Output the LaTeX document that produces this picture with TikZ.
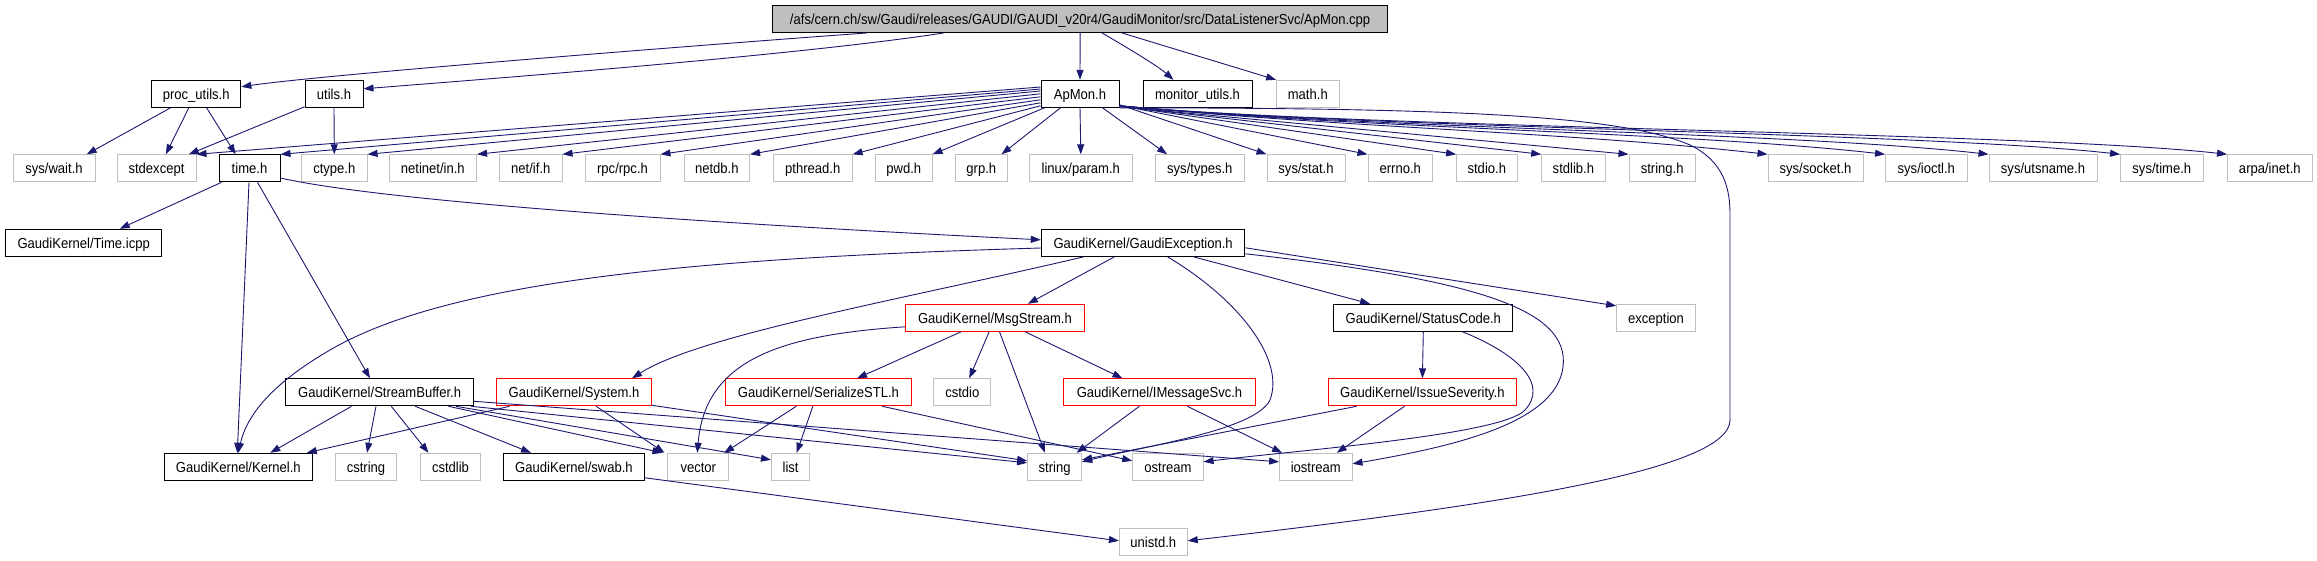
\documentclass[tikz,border=0pt]{standalone}
\usepackage{fontspec}
\setmainfont[FakeStretch=0.9]{Liberation Sans}
\usetikzlibrary{arrows.meta}
\definecolor{edgecol}{HTML}{191970}
\definecolor{boxgray}{HTML}{BFBFBF}
\definecolor{boxred}{HTML}{FF0000}
\begin{document}
\begin{tikzpicture}[x=1pt,y=-1pt,
  nb/.style={draw, line width=1pt, inner sep=0pt, minimum height=27pt,
    text height=11.5pt, text depth=1.1pt, font=\fontsize{14.5}{16}\selectfont},
  blk/.style={nb, draw=black},
  gry/.style={nb, draw=boxgray},
  rbox/.style={nb, draw=boxred},
  topbox/.style={nb, draw=black, fill=boxgray},
  inc/.style={draw=edgecol, line width=0.9pt, -{Triangle[length=10pt,width=7pt]}}]
\useasboundingbox (0,0) rectangle (2317,560);
% row 0
\node[topbox, minimum width=615.4pt] (src) at (1080.1,19) {/afs/cern.ch/sw/Gaudi/releases/GAUDI/GAUDI\_v20r4/GaudiMonitor/src/DataListenerSvc/ApMon.cpp};
% row 1
\node[blk, minimum width=89.3pt] (proc) at (196.2,93.8) {proc\_utils.h};
\node[blk, minimum width=58pt] (utils) at (334,93.8) {utils.h};
\node[blk, minimum width=78pt] (apmon) at (1080,93.8) {ApMon.h};
\node[blk, minimum width=109pt] (monutils) at (1197.5,93.8) {monitor\_utils.h};
\node[gry, minimum width=62.5pt] (math) at (1307.8,93.8) {math.h};
% row 2
\node[gry, minimum width=82pt] (syswait) at (54,168.3) {sys/wait.h};
\node[gry, minimum width=79pt] (stdexcept) at (156.5,168.3) {stdexcept};
\node[blk, minimum width=61pt] (timeh) at (249.5,168.3) {time.h};
\node[gry, minimum width=65.5pt] (ctype) at (334.3,168.3) {ctype.h};
\node[gry, minimum width=87.5pt] (netinet) at (432.8,168.3) {netinet/in.h};
\node[gry, minimum width=62.5pt] (netif) at (530.8,168.3) {net/if.h};
\node[gry, minimum width=75pt] (rpc) at (622.5,168.3) {rpc/rpc.h};
\node[gry, minimum width=65.5pt] (netdb) at (716.8,168.3) {netdb.h};
\node[gry, minimum width=78.5pt] (pthread) at (812.8,168.3) {pthread.h};
\node[gry, minimum width=56.5pt] (pwd) at (903.8,168.3) {pwd.h};
\node[gry, minimum width=51.4pt] (grp) at (981.3,168.3) {grp.h};
\node[gry, minimum width=102.4pt] (linuxparam) at (1080.8,168.3) {linux/param.h};
\node[gry, minimum width=88.4pt] (systypes) at (1199.8,168.3) {sys/types.h};
\node[gry, minimum width=78pt] (sysstat) at (1306,168.3) {sys/stat.h};
\node[gry, minimum width=64.6pt] (errno) at (1400.3,168.3) {errno.h};
\node[gry, minimum width=60.4pt] (stdio) at (1486.8,168.3) {stdio.h};
\node[gry, minimum width=63.3pt] (stdlib) at (1573.4,168.3) {stdlib.h};
\node[gry, minimum width=66.4pt] (stringh) at (1662.2,168.3) {string.h};
\node[gry, minimum width=95pt] (syssocket) at (1815.5,168.3) {sys/socket.h};
\node[gry, minimum width=81.4pt] (sysioctl) at (1926.3,168.3) {sys/ioctl.h};
\node[gry, minimum width=108pt] (sysutsname) at (2043,168.3) {sys/utsname.h};
\node[gry, minimum width=82.4pt] (systime) at (2161.8,168.3) {sys/time.h};
\node[gry, minimum width=84.5pt] (arpainet) at (2269.8,168.3) {arpa/inet.h};
% row 3
\node[blk, minimum width=156.1pt] (timeicpp) at (83.7,242.8) {GaudiKernel/Time.icpp};
\node[blk, minimum width=203.6pt] (gexc) at (1143.1,242.8) {GaudiKernel/GaudiException.h};
% row 4
\node[rbox, minimum width=178.6pt] (msgstream) at (994.9,317.8) {GaudiKernel/MsgStream.h};
\node[blk, minimum width=179.1pt] (statuscode) at (1423.3,317.8) {GaudiKernel/StatusCode.h};
\node[gry, minimum width=78.7pt] (exception) at (1656,317.8) {exception};
% row 5
\node[blk, minimum width=187.8pt] (streambuffer) at (379.6,392.3) {GaudiKernel/StreamBuffer.h};
\node[rbox, minimum width=155.1pt] (system) at (574,392.3) {GaudiKernel/System.h};
\node[rbox, minimum width=186.7pt] (serializestl) at (818.4,392.3) {GaudiKernel/SerializeSTL.h};
\node[gry, minimum width=57.1pt] (cstdio) at (962.3,392.3) {cstdio};
\node[rbox, minimum width=191.3pt] (imsgsvc) at (1159.5,392.3) {GaudiKernel/IMessageSvc.h};
\node[rbox, minimum width=188.8pt] (issuesev) at (1422.4,392.3) {GaudiKernel/IssueSeverity.h};
% row 6
\node[blk, minimum width=147.9pt] (kernel) at (238.3,466.8) {GaudiKernel/Kernel.h};
\node[gry, minimum width=60.7pt] (cstring) at (366,466.8) {cstring};
\node[gry, minimum width=60.2pt] (cstdlib) at (450.5,466.8) {cstdlib};
\node[blk, minimum width=140.8pt] (swab) at (574,466.8) {GaudiKernel/swab.h};
\node[gry, minimum width=60.7pt] (vector) at (698.3,466.8) {vector};
\node[gry, minimum width=38.3pt] (list) at (790.6,466.8) {list};
\node[gry, minimum width=54pt] (string) at (1054.6,466.8) {string};
\node[gry, minimum width=70.3pt] (ostream) at (1167.9,466.8) {ostream};
\node[gry, minimum width=72.4pt] (iostream) at (1315.8,466.8) {iostream};
% row 7
\node[gry, minimum width=67.8pt] (unistd) at (1153.3,541.8) {unistd.h};

% ---- edges from ApMon.cpp
\draw[inc] ([xshift=94.6pt]src.south west) .. controls (700,45) and (320,75) .. ([yshift=7pt]proc.east);
\draw[inc] ([xshift=171.6pt]src.south west) .. controls (800,55) and (500,78) .. ([yshift=5pt]utils.east);
\draw[inc] (src.south) -- (apmon.north);
\draw[inc] ([xshift=22pt]src.south) .. controls (1140,55) and (1160,68) .. ([xshift=-24pt]monutils.north);
\draw[inc] ([xshift=42pt]src.south) -- (math.north west);
% ---- proc_utils, utils
\draw[inc] ([xshift=19.5pt]proc.south west) -- ([xshift=32.7pt]syswait.north);
\draw[inc] ([xshift=-7.4pt]proc.south) -- ([xshift=9.3pt]stdexcept.north);
\draw[inc] ([xshift=10.4pt]proc.south) -- ([xshift=-13.8pt]timeh.north);
\draw[inc] ([yshift=1pt]utils.south west) -- ([xshift=32.3pt]stdexcept.north);
\draw[inc] (utils.south) -- (ctype.north);
% ---- ApMon.h
\draw[inc] ([yshift=6.8pt]apmon.west) -- (stdexcept.north east);
\draw[inc] ([yshift=4.8pt]apmon.west) -- (timeh.north east);
\draw[inc] ([yshift=2.8pt]apmon.west) -- (ctype.north east);
\draw[inc] (apmon.west) -- (netinet.north east);
\draw[inc] ([yshift=-3pt]apmon.west) -- (netif.north east);
\draw[inc] ([yshift=-6pt]apmon.west) -- (rpc.north east);
\draw[inc] ([yshift=-9pt]apmon.west) -- (netdb.north east);
\draw[inc] ([yshift=-12pt]apmon.west) -- (pthread.north east);
\draw[inc] ([xshift=4pt]apmon.south west) -- (pwd.north east);
\draw[inc] ([xshift=20pt]apmon.south west) -- ([xshift=-6pt]grp.north east);
\draw[inc] (apmon.south) -- (linuxparam.north);
\draw[inc] ([xshift=-17pt]apmon.south east) -- ([xshift=12pt]systypes.north west);
\draw[inc] ([yshift=3pt]apmon.south east) -- (sysstat.north west);
\draw[inc] ([yshift=2.5pt]apmon.south east) -- (errno.north west);
\draw[inc] ([yshift=2pt]apmon.south east) -- (stdio.north west);
\draw[inc] ([yshift=1.5pt]apmon.south east) -- (stdlib.north west);
\draw[inc] ([yshift=1pt]apmon.south east) -- (stringh.north west);
\draw[inc] ([yshift=2pt]apmon.south east) .. controls (1350,128) and (1568,132) .. (syssocket.north west);
\draw[inc] ([yshift=2pt]apmon.south east) .. controls (1350,128) and (1686,132) .. (sysioctl.north west);
\draw[inc] ([yshift=2pt]apmon.south east) .. controls (1350,128) and (1789,132) .. (sysutsname.north west);
\draw[inc] ([yshift=2pt]apmon.south east) .. controls (1350,128) and (1921,132) .. (systime.north west);
\draw[inc] ([yshift=2pt]apmon.south east) .. controls (1350,128) and (2028,132) .. (arpainet.north west);
\draw[inc] (apmon.south east) .. controls (1450,108) and (1620,115) .. (1690,145)
  .. controls (1725,162) and (1730,190) .. (1730,215) -- (1730,420)
  .. controls (1730,470) and (1500,505) .. ([yshift=1pt]unistd.east);
% ---- time.h
\draw[inc] ([xshift=3pt]timeh.south west) -- ([xshift=36pt]timeicpp.north);
\draw[inc] ([xshift=-0.5pt]timeh.south) -- ([xshift=-1pt]kernel.north);
\draw[inc] ([xshift=8pt]timeh.south) -- ([xshift=-9.6pt]streambuffer.north);
\draw[inc] ([yshift=-9.7pt]timeh.east) .. controls (400,205) and (800,228) .. ([yshift=3pt]gexc.west);
% ---- GaudiException.h
\draw[inc] ([yshift=-5.2pt]gexc.west) .. controls (700,258) and (450,280) .. (330,350)
  .. controls (280,379) and (248,410) .. (kernel.north);
\draw[inc] ([xshift=43pt]gexc.south west) .. controls (900,300) and (700,335) .. ([xshift=58pt]system.north);
\draw[inc] ([xshift=73.7pt]gexc.south west) -- ([xshift=33pt]msgstream.north);
\draw[inc] ([xshift=126.7pt]gexc.south west) .. controls (1240,300) and (1285,360) .. (1270,400)
  .. controls (1255,430) and (1150,445) .. ([yshift=5pt]string.east);
\draw[inc] ([xshift=152.6pt]gexc.south west) -- ([xshift=-53.3pt]statuscode.north);
\draw[inc] ([yshift=-5pt]gexc.east) -- ([yshift=-2pt]exception.north west);
\draw[inc] ([yshift=-11pt]gexc.east) .. controls (1480,280) and (1570,310) .. (1563,367)
  .. controls (1556,424) and (1450,447) .. ([yshift=3pt]iostream.east);
% ---- StatusCode.h
\draw[inc] (statuscode.south) -- (issuesev.north);
\draw[inc] ([xshift=129.3pt]statuscode.south west) .. controls (1520,355) and (1548,385) .. (1525,410)
  .. controls (1502,435) and (1300,450) .. ([yshift=5pt]ostream.east);
% ---- IssueSeverity.h
\draw[inc] ([xshift=29pt]issuesev.south west) -- ([yshift=7pt]string.east);
\draw[inc] ([xshift=77pt]issuesev.south west) -- ([xshift=21pt]iostream.north);
% ---- IMessageSvc.h
\draw[inc] ([xshift=76pt]imsgsvc.south west) -- ([xshift=22pt]string.north);
\draw[inc] ([xshift=124pt]imsgsvc.south west) -- ([xshift=3pt]iostream.north west);
% ---- MsgStream.h
\draw[inc] ([xshift=56pt]msgstream.south west) -- ([xshift=38.6pt]serializestl.north);
\draw[inc] ([xshift=84pt]msgstream.south west) -- ([xshift=7pt]cstdio.north);
\draw[inc] ([xshift=94.4pt]msgstream.south west) -- ([xshift=-9.6pt]string.north);
\draw[inc] ([xshift=120pt]msgstream.south west) -- ([xshift=-37pt]imsgsvc.north);
\draw[inc] ([yshift=-9pt]msgstream.west) .. controls (780,335) and (705,360) .. ([xshift=-1pt]vector.north);
% ---- SerializeSTL.h
\draw[inc] ([xshift=71.7pt]serializestl.south west) -- ([xshift=-5pt]vector.north east);
\draw[inc] ([xshift=88.3pt]serializestl.south west) -- ([xshift=6pt]list.north);
\draw[inc] ([xshift=157.7pt]serializestl.south west) -- ([yshift=6pt]ostream.west);
% ---- System.h
\draw[inc] ([xshift=13.6pt]system.south west) -- ([xshift=-6pt]kernel.north east);
\draw[inc] ([xshift=100.3pt]system.south west) -- ([xshift=-3pt]vector.north west);
\draw[inc] ([yshift=1pt]system.south east) -- ([yshift=6pt]string.west);
% ---- StreamBuffer.h
\draw[inc] ([xshift=66.3pt]streambuffer.south west) -- ([xshift=32pt]kernel.north);
\draw[inc] ([xshift=90.8pt]streambuffer.south west) -- ([xshift=1pt]cstring.north);
\draw[inc] ([xshift=106.1pt]streambuffer.south west) -- ([xshift=-22pt]cstdlib.north);
\draw[inc] ([xshift=130.1pt]streambuffer.south west) -- ([xshift=-43pt]swab.north);
\draw[inc] ([xshift=163.3pt]streambuffer.south west) -- ([xshift=-5pt]vector.north west);
\draw[inc] ([xshift=-18pt]streambuffer.south east) -- ([yshift=7pt]list.west);
\draw[inc] ([xshift=-3pt]streambuffer.south east) -- ([yshift=4pt]string.west);
\draw[inc] ([yshift=5pt]streambuffer.south east) -- ([yshift=5pt]iostream.west);
% ---- swab.h
\draw[inc] ([yshift=-11pt]swab.east) -- ([yshift=1pt]unistd.west);
\end{tikzpicture}
\end{document}
